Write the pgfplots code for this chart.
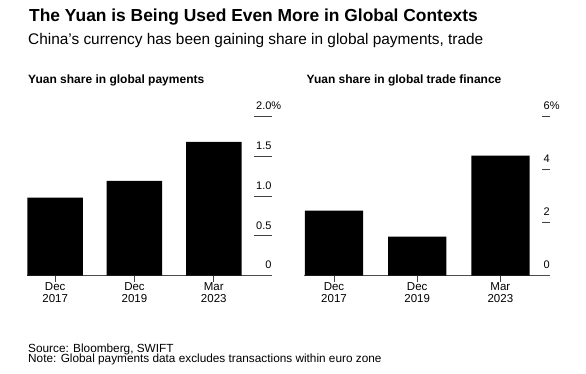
\documentclass[border=0pt]{standalone}
\usepackage{fontspec}
\setmainfont{Liberation Sans}
\usepackage{pgfplots}
\pgfplotsset{compat=1.18}
\pgfplotsset{
  bbg/.style={
    scale only axis,
    height=159.3pt,
    anchor=origin,
    ymin=0,
    axis x line*=bottom,
    axis y line*=right,
    x axis line style={draw=black!70, line width=1pt, -},
    y axis line style={draw=none},
    tick align=inside,
    xtick={0,1,2},
    xticklabels={Dec\\2017,Dec\\2019,Mar\\2023},
    xtick style={draw=black!75, line width=0.9pt, /pgfplots/major tick length=6pt, yshift=-6pt},
    xticklabel style={align=center, anchor=north, inner sep=0pt, yshift=-6.5pt,
      font=\fontsize{11.5}{11.7}\selectfont},
    yticklabel style={anchor=south east, inner sep=0pt, yshift=6.5pt,
      font=\fontsize{11}{13}\selectfont},
    ytick style={draw=black!75, line width=0.9pt},
    /pgf/number format/assume math mode=true,
  }
}
\begin{document}
\begin{tikzpicture}
\useasboundingbox (0pt,0pt) rectangle (586pt,373pt);
\fill[white] (0pt,0pt) rectangle (586pt,373pt);
\node[anchor=base west, inner sep=0pt, font=\fontsize{17.4}{20}\selectfont\bfseries] at (29pt,351pt) {The Yuan is Being Used Even More in Global Contexts};
\node[anchor=base west, inner sep=0pt, font=\fontsize{15.4}{18}\selectfont] at (28pt,328pt) {China's currency has been gaining share in global payments, trade};
\node[anchor=base west, inner sep=0pt, font=\fontsize{12}{14}\selectfont\bfseries] at (28pt,289pt) {Yuan share in global payments};
\node[anchor=base west, inner sep=0pt, font=\fontsize{12}{14}\selectfont\bfseries] at (306.5pt,289pt) {Yuan share in global trade finance};
\node[anchor=base west, inner sep=0pt, font=\fontsize{11.8}{13}\selectfont] at (28pt,20.7pt) {Source: Bloomberg, SWIFT};
\node[anchor=base west, inner sep=0pt, font=\fontsize{11.8}{13}\selectfont] at (28pt,10.3pt) {Note: Global payments data excludes transactions within euro zone};

\begin{axis}[bbg, at={(55.2pt,97.3pt)}, width=244.7pt,
  xmin=-0.356, xmax=2.73, ymax=2,
  ytick={0,0.5,1,1.5,2},
  yticklabels={0,0.5,1.0,1.5,2.0\rlap{\%}},
  ytick style={/pgfplots/major tick length=18pt},
]
\addplot[ybar, bar width=0.7, fill=black, draw=none] coordinates {(0,0.98) (1,1.19) (2,1.68)};
\end{axis}

\begin{axis}[bbg, at={(334pt,97.3pt)}, width=246pt,
  xmin=-0.36, xmax=2.597, ymax=6,
  ytick={0,2,4,6},
  yticklabels={0,2,4,6\rlap{\%}},
  ytick style={/pgfplots/major tick length=8.3pt},
]
\addplot[ybar, bar width=0.7, fill=black, draw=none] coordinates {(0,2.45) (1,1.47) (2,4.52)};
\end{axis}
\end{tikzpicture}
\end{document}
